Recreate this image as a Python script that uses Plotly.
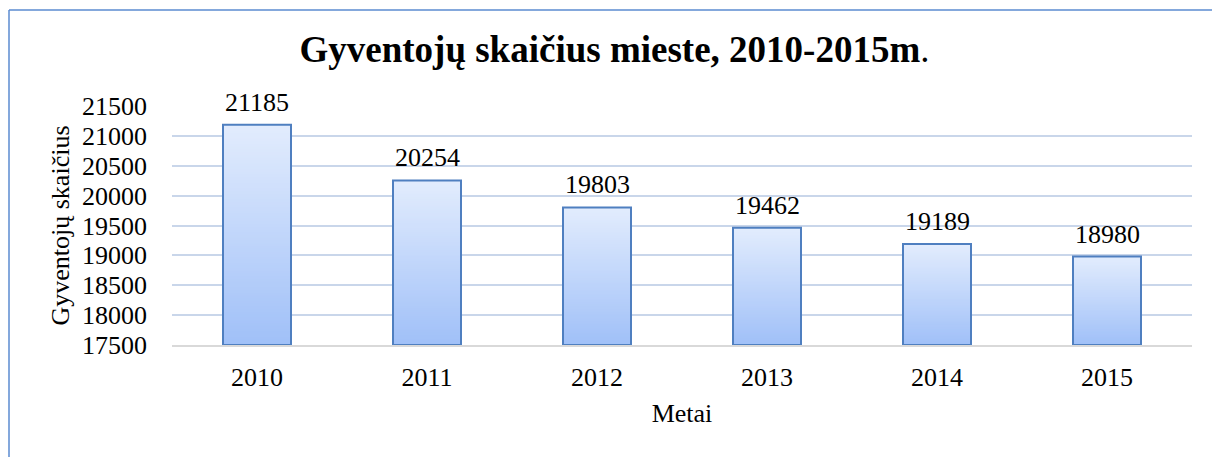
import plotly.graph_objects as go

years = ["2010", "2011", "2012", "2013", "2014", "2015"]
population = [21185, 20254, 19803, 19462, 19189, 18980]
y_ticks = [17500, 18000, 18500, 19000, 19500, 20000, 20500, 21000, 21500]
y_tick_labels = [str(v) for v in y_ticks]

title_text = "<b>Gyventojų skaičius mieste, 2010-2015m</b>."
y_title = "Gyventojų skaičius"
x_title = "Metai"

base_val = 17500
FONT = "Liberation Serif, Times New Roman, serif"

fig = go.Figure()

# gradient bars: each layer starts higher and covers to the bar top (top light, bottom darker)
N = 80
top_rgb = (226, 236, 253)
bot_rgb = (160, 192, 248)
for k in range(N):
    t = k / (N - 1)
    r = round(bot_rgb[0] + (top_rgb[0] - bot_rgb[0]) * t)
    g = round(bot_rgb[1] + (top_rgb[1] - bot_rgb[1]) * t)
    b = round(bot_rgb[2] + (top_rgb[2] - bot_rgb[2]) * t)
    bases = [base_val + k * (v - base_val) / N for v in population]
    heights = [v - bs for v, bs in zip(population, bases)]
    fig.add_trace(go.Bar(
        x=years, y=heights, base=bases,
        marker=dict(color=f"rgb({r},{g},{b})", line=dict(width=0)),
        hoverinfo="skip", showlegend=False,
    ))

# outline
fig.add_trace(go.Bar(
    x=years, y=[v - base_val for v in population], base=[base_val] * len(population),
    marker=dict(color="rgba(0,0,0,0)", line=dict(color="#4F7FC0", width=2)),
    showlegend=False,
))

# value labels (x given as category index)
annotations = [
    dict(x=i, y=v, xref="x", yref="y", text=str(v), showarrow=False,
         yanchor="bottom", yshift=6, font=dict(family=FONT, size=26, color="black"))
    for i, v in enumerate(population)
]

# plot area geometry in px
L, R, T, B = 172, 1192, 106, 345
W, H = 1212, 457
def px(xp):
    return (xp - L) / (R - L)
def py(yp):
    return (B - yp) / (B - T)

fig.update_layout(
    width=W, height=H,
    margin=dict(l=L, r=W - R, t=T, b=H - B, autoexpand=False),
    paper_bgcolor="white", plot_bgcolor="white",
    barmode="overlay", bargap=0.6,
    font=dict(family=FONT, color="black"),
    title=dict(text=title_text, x=0.507, xanchor="center", y=1 - 49 / H, yanchor="middle",
               font=dict(family=FONT, size=37, color="black")),
    xaxis=dict(
        type="category", categoryorder="array", categoryarray=years,
        range=[-0.5, len(years) - 0.5],
        title=dict(text=x_title, font=dict(size=26), standoff=13),
        tickfont=dict(size=26), showgrid=False,
        showline=True, linecolor="#D9D9D9", linewidth=1.5,
        ticks="", ticklabelstandoff=8,
    ),
    yaxis=dict(
        title=dict(text=y_title, font=dict(size=26), standoff=4),
        range=[17500, 21500], tickvals=y_ticks, ticktext=y_tick_labels, tickfont=dict(size=26),
        showgrid=True, gridcolor="#C9D6EA", gridwidth=1.5,
        zeroline=False, showline=False, ticks="", ticklabelstandoff=24,
    ),
    annotations=annotations,
    shapes=[
        dict(type="line", xref="paper", yref="paper", x0=px(9), x1=px(9), y0=py(10), y1=py(H + 5),
             line=dict(color="#5B8BD0", width=1.5)),
        dict(type="line", xref="paper", yref="paper", x0=px(9), x1=px(W + 5), y0=py(10), y1=py(10),
             line=dict(color="#5B8BD0", width=1.5)),
    ],
)

fig.write_html("out.html", config={"displayModeBar": False},
               post_script="document.body.style.margin='0px';")
